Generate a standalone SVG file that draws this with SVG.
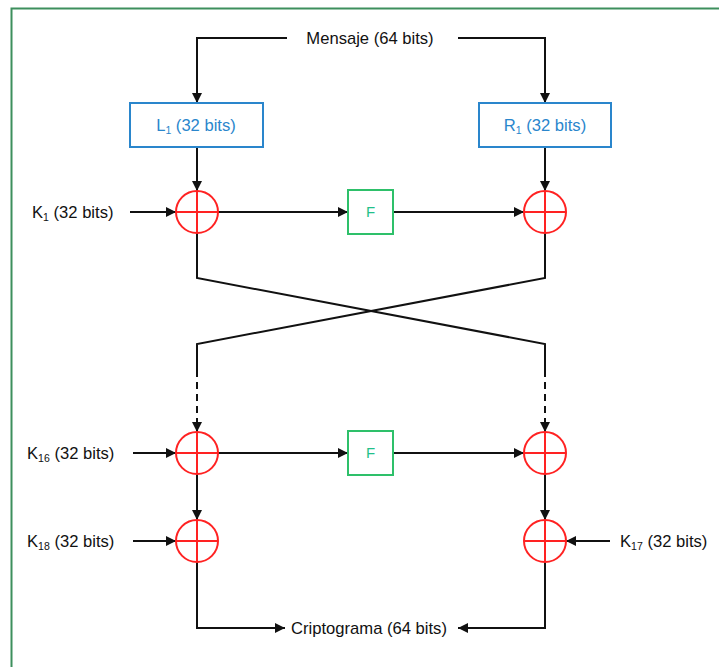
<svg xmlns="http://www.w3.org/2000/svg" width="719" height="667" viewBox="0 0 719 667">
<defs>
<marker id="ah" viewBox="0 0 10 10" refX="10" refY="5" markerWidth="10" markerHeight="10" markerUnits="userSpaceOnUse" orient="auto">
<path d="M0,0 L10,5 L0,10 z" fill="#111"/>
</marker>
</defs>
<style>
.t{font-family:"Liberation Sans",Arial,sans-serif;font-size:16.6px;fill:#111}
.b{fill:#2a86cc}
.ln{fill:none;stroke:#111;stroke-width:2}
.box{fill:#fff;stroke:#2a86cc;stroke-width:2}
.fb{fill:#fff;stroke:#2ec06a;stroke-width:2}
.ft{font-family:"Liberation Sans",Arial,sans-serif;font-size:15px;fill:#22c08a}
.x{fill:#fff;stroke:#f22;stroke-width:2}
.xl{stroke:#f22;stroke-width:2}
</style>
<rect x="11.5" y="8.5" width="720" height="670" fill="#fff" stroke="#3d8f5d" stroke-width="2"/>
<g id="connectors">
<path class="ln" d="M287,38 H197 V103" marker-end="url(#ah)"/>
<path class="ln" d="M458,38 H545 V103" marker-end="url(#ah)"/>
<path class="ln" d="M197,147 V191" marker-end="url(#ah)"/>
<path class="ln" d="M545,147 V191" marker-end="url(#ah)"/>
<path class="ln" d="M130,212 H176" marker-end="url(#ah)"/>
<path class="ln" d="M218,212 H348" marker-end="url(#ah)"/>
<path class="ln" d="M393,212 H524" marker-end="url(#ah)"/>
<path class="ln" d="M197,233 V278 L545,344 V370"/>
<path class="ln" d="M545,233 V278 L197,344 V370"/>
<path class="ln" d="M197,370 V432" stroke-dasharray="7,5" marker-end="url(#ah)"/>
<path class="ln" d="M545,370 V432" stroke-dasharray="7,5" marker-end="url(#ah)"/>
<path class="ln" d="M133,453 H176" marker-end="url(#ah)"/>
<path class="ln" d="M218,453 H348" marker-end="url(#ah)"/>
<path class="ln" d="M393,453 H524" marker-end="url(#ah)"/>
<path class="ln" d="M197,474 V520" marker-end="url(#ah)"/>
<path class="ln" d="M545,474 V520" marker-end="url(#ah)"/>
<path class="ln" d="M133,541 H176" marker-end="url(#ah)"/>
<path class="ln" d="M610,541 H566" marker-end="url(#ah)"/>
<path class="ln" d="M197,562 V628 H285" marker-end="url(#ah)"/>
<path class="ln" d="M545,562 V628 H458" marker-end="url(#ah)"/>
</g>
<g id="mensaje"><text class="t" x="370" y="44" text-anchor="middle">Mensaje (64 bits)</text></g>
<g id="L1"><rect class="box" x="130" y="103" width="133" height="44"/><text class="t b" x="196" y="131" text-anchor="middle">L<tspan font-size="10.5" dy="3">1</tspan><tspan dy="-3"> (32 bits)</tspan></text></g>
<g id="R1"><rect class="box" x="479" y="103" width="132" height="44"/><text class="t b" x="545" y="131" text-anchor="middle">R<tspan font-size="10.5" dy="3">1</tspan><tspan dy="-3"> (32 bits)</tspan></text></g>
<g id="xor1L"><circle class="x" cx="197" cy="212" r="21"/><path class="xl" d="M176,212 H218 M197,191 V233"/></g>
<g id="xor1R"><circle class="x" cx="545" cy="212" r="21"/><path class="xl" d="M524,212 H566 M545,191 V233"/></g>
<g id="F1"><rect class="fb" x="348" y="190" width="45" height="44"/><text class="ft" x="370.5" y="217" text-anchor="middle">F</text></g>
<g id="K1"><text class="t" x="32" y="218">K<tspan font-size="10.5" dy="3">1</tspan><tspan dy="-3"> (32 bits)</tspan></text></g>
<g id="xor16L"><circle class="x" cx="197" cy="453" r="21"/><path class="xl" d="M176,453 H218 M197,432 V474"/></g>
<g id="xor16R"><circle class="x" cx="545" cy="453" r="21"/><path class="xl" d="M524,453 H566 M545,432 V474"/></g>
<g id="F16"><rect class="fb" x="348" y="431" width="45" height="44"/><text class="ft" x="370.5" y="458" text-anchor="middle">F</text></g>
<g id="K16"><text class="t" x="27" y="459">K<tspan font-size="10.5" dy="3">16</tspan><tspan dy="-3"> (32 bits)</tspan></text></g>
<g id="xor18"><circle class="x" cx="197" cy="541" r="21"/><path class="xl" d="M176,541 H218 M197,520 V562"/></g>
<g id="xor17"><circle class="x" cx="545" cy="541" r="21"/><path class="xl" d="M524,541 H566 M545,520 V562"/></g>
<g id="K18"><text class="t" x="27" y="547">K<tspan font-size="10.5" dy="3">18</tspan><tspan dy="-3"> (32 bits)</tspan></text></g>
<g id="K17"><text class="t" x="620" y="547">K<tspan font-size="10.5" dy="3">17</tspan><tspan dy="-3"> (32 bits)</tspan></text></g>
<g id="cripto"><text class="t" x="369" y="634" text-anchor="middle">Criptograma (64 bits)</text></g>
</svg>
